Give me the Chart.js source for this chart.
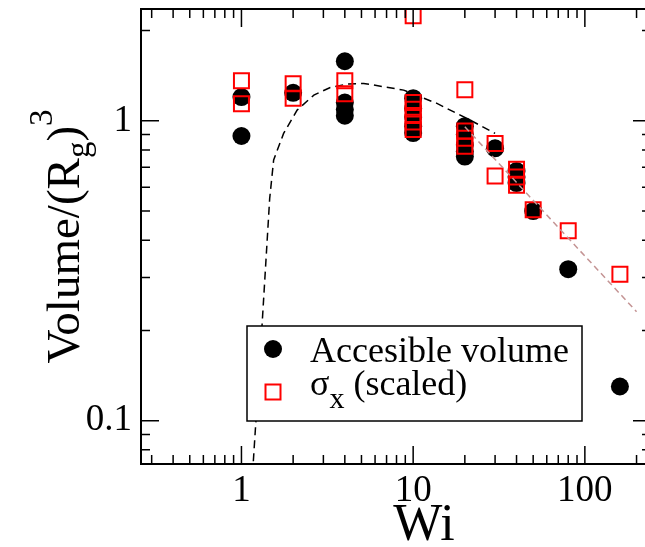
<!DOCTYPE html>
<html>
<head>
<meta charset="utf-8">
<title>Volume vs Wi</title>
<script src="https://cdn.jsdelivr.net/npm/chart.js@4.4.1/dist/chart.umd.min.js"></script>
<style>
  html, body { margin: 0; padding: 0; background: #fff; overflow: hidden; }
  #moldura { position: relative; width: 645px; height: 547px; }
  #graficoVolume { display: block; }
</style>
</head>
<body>
<div id="moldura"><canvas id="graficoVolume" width="645" height="547"></canvas></div>
<script>
// ---------- DADOS ----------

// accessible volume (filled circles)
var wiCirculos = [1, 1, 2, 4, 4, 4, 4, 10, 10, 10, 10, 10, 20, 20, 20, 20, 20, 30, 40, 40, 40, 50, 80, 160];
var volumeCirculos = [1.2, 0.89, 1.24, 1.58, 1.15, 1.09, 1.04, 1.19, 1.1, 1.03, 0.96, 0.91, 0.96, 0.9, 0.83, 0.79, 0.76, 0.81, 0.68, 0.65, 0.62, 0.5, 0.32, 0.13];

// sigma_x scaled (open squares)
var wiQuadrados = [1, 1, 2, 2, 4, 4, 10, 10, 10, 10, 10, 10, 20, 20, 20, 20, 30, 30, 40, 40, 40, 50, 80, 160];
var sigmaQuadrados = [1.36, 1.14, 1.33, 1.19, 1.36, 1.23, 2.24, 1.15, 1.094, 1.041, 0.99, 0.935, 1.27, 0.924, 0.875, 0.823, 0.84, 0.655, 0.69, 0.65, 0.61, 0.505, 0.43, 0.308];

// black dashed curve
var wiCurva = [1.147, 1.17, 1.32, 1.46, 1.54, 1.76, 2.11, 2.64, 3.29, 4.12, 5.15, 5.63, 8.8, 13.76, 21.5, 30];
var volumeCurva = [0.06, 0.0717, 0.211, 0.55, 0.74, 0.908, 1.086, 1.218, 1.292, 1.326, 1.332, 1.322, 1.266, 1.143, 1.005, 0.908];

// power law guide (brown dashed line)
var wiReta = [20, 200];
var volumeReta = [0.955, 0.231];

var ticksX = [0.3, 0.4, 0.5, 0.6, 0.7, 0.8, 0.9, 1, 2, 3, 4, 5, 6, 7, 8, 9, 10, 20, 30, 40, 50, 60, 70, 80, 90, 100, 200];
var rotulosX = [1, 10, 100];
var ticksY = [0.08, 0.09, 0.1, 0.2, 0.3, 0.4, 0.5, 0.6, 0.7, 0.8, 0.9, 1, 2];
var rotulosY = [0.1, 1];

var FONTE = "'Liberation Serif', 'Times New Roman', serif";
// the right-hand axis sits just past the canvas edge, only its tick ends show
var RECUO_EIXO_DIREITO = 6;

function montarPontos(xs, ys) {
  var pontos = [];
  for (var i = 0; i < xs.length; i++) {
    pontos.push({ x: xs[i], y: ys[i] });
  }
  return pontos;
}

function ehDecada(v) {
  var l = Math.log10(v);
  return Math.abs(l - Math.round(l)) < 1e-9;
}

// ---------- MOLDURA, LEGENDA E TITULOS ----------

var pluginMoldura = {
  id: "moldura",
  afterDraw: function (chart) {
    var ctx = chart.ctx;
    var area = chart.chartArea;
    var escalaX = chart.scales.x;
    var escalaY = chart.scales.y;
    var direita = area.right + RECUO_EIXO_DIREITO;

    ctx.save();
    ctx.strokeStyle = "#000";
    ctx.lineWidth = 2;
    ctx.beginPath();
    ctx.moveTo(direita, area.top);
    ctx.lineTo(area.left, area.top);
    ctx.lineTo(area.left, area.bottom);
    ctx.lineTo(direita, area.bottom);
    ctx.stroke();

    // ticks pointing inward on all four sides
    ctx.lineWidth = 1.5;
    ctx.beginPath();
    ticksX.forEach(function (v) {
      var px = escalaX.getPixelForValue(v);
      var tam = ehDecada(v) ? 18 : 9;
      ctx.moveTo(px, area.bottom);
      ctx.lineTo(px, area.bottom - tam);
      ctx.moveTo(px, area.top);
      ctx.lineTo(px, area.top + tam);
    });
    ticksY.forEach(function (v) {
      var py = escalaY.getPixelForValue(v);
      var tam = ehDecada(v) ? 18 : 9;
      ctx.moveTo(area.left, py);
      ctx.lineTo(area.left + tam, py);
      ctx.moveTo(direita, py);
      ctx.lineTo(direita - tam, py);
    });
    ctx.stroke();

    // legend box
    ctx.fillStyle = "#fff";
    ctx.fillRect(247, 326, 335, 95);
    ctx.lineWidth = 1.5;
    ctx.strokeRect(247, 326, 335, 95);

    ctx.fillStyle = "#000";
    ctx.beginPath();
    ctx.arc(273, 349, 9, 0, Math.PI * 2);
    ctx.fill();

    ctx.strokeStyle = "#ff0000";
    ctx.lineWidth = 2;
    ctx.strokeRect(265.5, 384.5, 15, 15);

    ctx.fillStyle = "#000";
    ctx.textBaseline = "alphabetic";
    ctx.textAlign = "left";
    ctx.font = "36px " + FONTE;
    ctx.fillText("Accesible volume", 310, 362);

    ctx.fillText("\u03c3", 310, 395);
    var xSigma = 310 + ctx.measureText("\u03c3").width;
    ctx.font = "30px " + FONTE;
    ctx.fillText("x", xSigma, 408);
    var xSub = xSigma + ctx.measureText("x").width;
    ctx.font = "36px " + FONTE;
    ctx.fillText(" (scaled)", xSub, 395);

    // x axis title
    ctx.textAlign = "center";
    ctx.font = "52px " + FONTE;
    ctx.fillText("Wi", 424, 540);

    // y axis title, rotated, with subscript and superscript
    ctx.save();
    ctx.translate(79, (area.top + area.bottom) / 2);
    ctx.rotate(-Math.PI / 2);
    ctx.textAlign = "left";
    var partes = [
      { t: "Volume/(R", f: 47, dy: 0 },
      { t: "g", f: 33, dy: 10 },
      { t: ")", f: 47, dy: 0 },
      { t: "3", f: 33, dy: -27 }
    ];
    var largura = 0;
    partes.forEach(function (p) {
      ctx.font = p.f + "px " + FONTE;
      largura += ctx.measureText(p.t).width;
    });
    var cx = -largura / 2;
    partes.forEach(function (p) {
      ctx.font = p.f + "px " + FONTE;
      ctx.fillText(p.t, cx, p.dy);
      cx += ctx.measureText(p.t).width;
    });
    ctx.restore();

    ctx.restore();
  }
};

// ---------- GRAFICO ----------

function criarGrafico() {
  var ctx = document.getElementById("graficoVolume");

  new Chart(ctx, {
    type: "scatter",
    data: {
      datasets: [
        {
          label: "guia",
          data: montarPontos(wiReta, volumeReta),
          showLine: true,
          borderColor: "#c49494",
          borderWidth: 1.5,
          borderDash: [6, 4],
          pointRadius: 0,
          fill: false,
          order: 0
        },
        {
          label: "\u03c3x (scaled)",
          data: montarPontos(wiQuadrados, sigmaQuadrados),
          pointStyle: "rect",
          pointRadius: 10.6,
          borderColor: "#ff0000",
          borderWidth: 2,
          backgroundColor: "rgba(0,0,0,0)",
          order: 1
        },
        {
          label: "Accesible volume",
          data: montarPontos(wiCirculos, volumeCirculos),
          pointStyle: "circle",
          pointRadius: 9,
          borderWidth: 0,
          backgroundColor: "#000",
          order: 2
        },
        {
          label: "curva",
          data: montarPontos(wiCurva, volumeCurva),
          showLine: true,
          borderColor: "#000",
          borderWidth: 1.5,
          borderDash: [8, 5],
          pointRadius: 0,
          fill: false,
          order: 3
        }
      ]
    },
    options: {
      responsive: false,
      animation: false,
      devicePixelRatio: 1,
      events: [],
      layout: {
        autoPadding: false,
        padding: { top: 9, right: 0, left: 0, bottom: 0 }
      },
      plugins: {
        legend: { display: false },
        tooltip: { enabled: false }
      },
      scales: {
        x: {
          type: "logarithmic",
          position: "bottom",
          min: 0.26,
          max: 224,
          grid: { display: false, drawTicks: false },
          border: { display: false },
          afterBuildTicks: function (escala) {
            escala.ticks = ticksX.map(function (v) { return { value: v }; });
          },
          afterFit: function (escala) {
            escala.height = 83;
            escala.paddingLeft = 0;
            escala.paddingRight = 0;
          },
          ticks: {
            autoSkip: false,
            maxRotation: 0,
            minRotation: 0,
            padding: 5,
            color: "#000",
            font: { family: FONTE, size: 37 },
            callback: function (valor) {
              return rotulosX.indexOf(valor) >= 0 ? String(valor) : "";
            }
          }
        },
        y: {
          type: "logarithmic",
          position: "left",
          min: 0.0717,
          max: 2.36,
          grid: { display: false, drawTicks: false },
          border: { display: false },
          afterBuildTicks: function (escala) {
            escala.ticks = ticksY.map(function (v) { return { value: v }; });
          },
          afterFit: function (escala) {
            escala.width = 141;
            escala.paddingTop = 0;
            escala.paddingBottom = 0;
          },
          ticks: {
            autoSkip: false,
            padding: 9,
            color: "#000",
            font: { family: FONTE, size: 37 },
            callback: function (valor) {
              return rotulosY.indexOf(valor) >= 0 ? String(valor) : "";
            }
          }
        }
      }
    },
    plugins: [pluginMoldura]
  });
}

criarGrafico();
</script>
</body>
</html>
